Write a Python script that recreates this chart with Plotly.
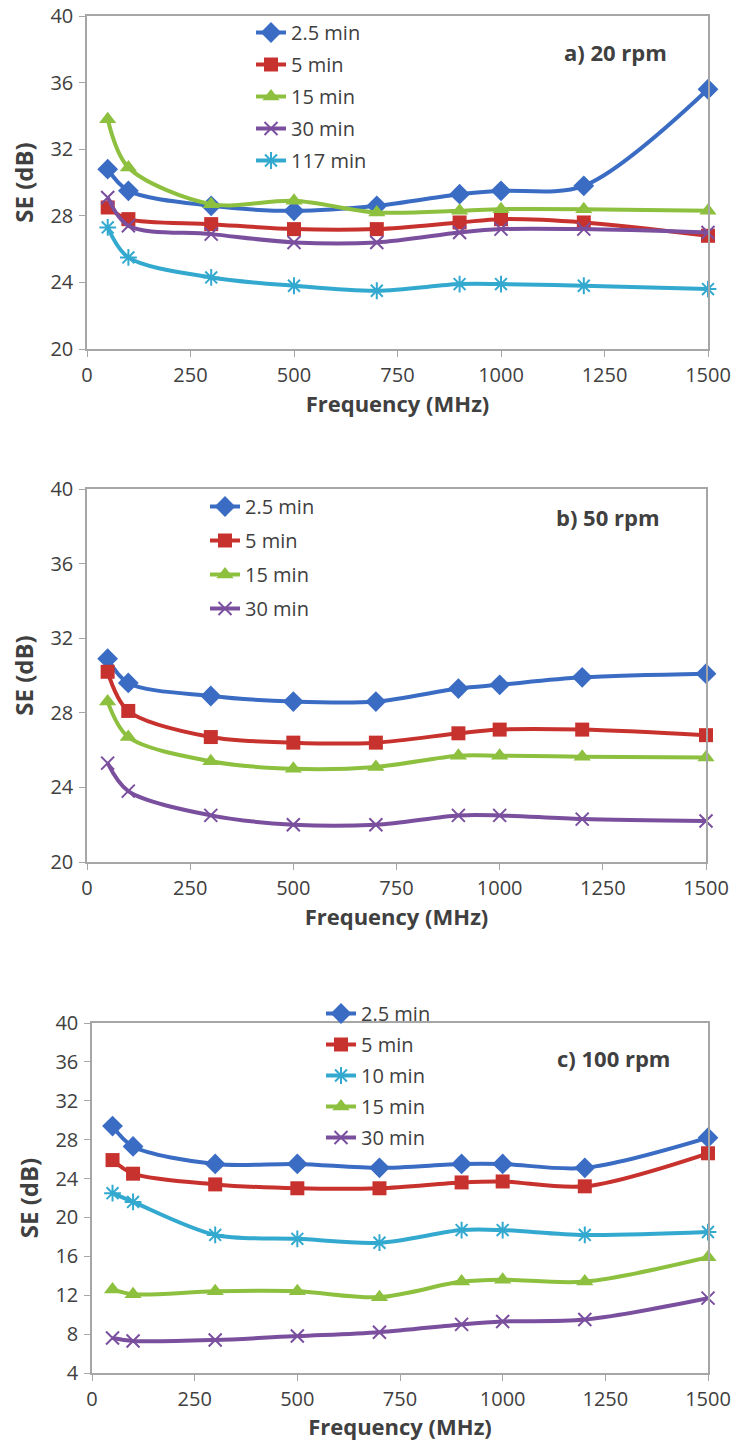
import plotly.graph_objects as go

freq = [50, 100, 300, 500, 700, 900, 1000, 1200, 1500]

# a) 20 rpm
a_labels = ["2.5 min", "5 min", "15 min", "30 min", "117 min"]
a_25 = [30.8, 29.5, 28.6, 28.3, 28.6, 29.3, 29.5, 29.8, 35.6]
a_5 = [28.5, 27.8, 27.5, 27.2, 27.2, 27.6, 27.8, 27.6, 26.8]
a_15 = [33.8, 30.9, 28.7, 28.9, 28.2, 28.3, 28.4, 28.4, 28.3]
a_30 = [29.1, 27.4, 26.9, 26.4, 26.4, 27.0, 27.2, 27.2, 27.0]
a_117 = [27.3, 25.5, 24.3, 23.8, 23.5, 23.9, 23.9, 23.8, 23.6]

# b) 50 rpm
b_labels = ["2.5 min", "5 min", "15 min", "30 min"]
b_25 = [30.9, 29.6, 28.9, 28.6, 28.6, 29.3, 29.5, 29.9, 30.1]
b_5 = [30.2, 28.1, 26.7, 26.4, 26.4, 26.9, 27.1, 27.1, 26.8]
b_15 = [28.6, 26.7, 25.4, 25.0, 25.1, 25.7, 25.7, 25.65, 25.6]
b_30 = [25.3, 23.8, 22.5, 22.0, 22.0, 22.5, 22.5, 22.3, 22.2]

# c) 100 rpm
c_labels = ["2.5 min", "5 min", "10 min", "15 min", "30 min"]
c_25 = [29.4, 27.3, 25.5, 25.5, 25.1, 25.5, 25.5, 25.1, 28.2]
c_5 = [25.9, 24.5, 23.4, 23.0, 23.0, 23.6, 23.7, 23.2, 26.6]
c_10 = [22.5, 21.6, 18.2, 17.8, 17.4, 18.7, 18.7, 18.2, 18.5]
c_15 = [12.6, 12.1, 12.4, 12.4, 11.8, 13.4, 13.6, 13.4, 15.9]
c_30 = [7.6, 7.3, 7.4, 7.8, 8.2, 9.0, 9.3, 9.5, 11.7]

panel_titles = ["a) 20 rpm", "b) 50 rpm", "c) 100 rpm"]
x_ticks = [0, 250, 500, 750, 1000, 1250, 1500]

BLUE = "#3A6CC4"
RED = "#C8322E"
GREEN = "#8DC03F"
PURPLE = "#7A4F9E"
CYAN = "#33A9CF"

styles = {
    "2.5 min": (BLUE, "diamond", 16),
    "5 min": (RED, "square", 14),
    "15 min": (GREEN, "triangle-up", 15),
    "30 min": (PURPLE, "x-thin", 13),
    "117 min": (CYAN, "asterisk", 14),
    "10 min": (CYAN, "asterisk", 14),
}

TXT = "#404040"
FONT = "Open Sans, Noto Sans, sans-serif"

fig = go.Figure()

panels = [
    (a_labels, [a_25, a_5, a_15, a_30, a_117], "x", "y", "legend"),
    (b_labels, [b_25, b_5, b_15, b_30], "x2", "y2", "legend2"),
    (c_labels, [c_25, c_5, c_10, c_15, c_30], "x3", "y3", "legend3"),
]

for pi, (labels, series, xa, ya, lg) in enumerate(panels):
    for lab, vals in zip(labels, series):
        col, sym, sz = styles[lab]
        thin = sym in ("x-thin", "asterisk")
        fig.add_trace(go.Scatter(
            x=freq, y=vals, name=lab, xaxis=xa, yaxis=ya, legend=lg,
            legendgroup=f"{pi}-{lab}",
            mode="lines+markers",
            line=dict(color=col, width=4, shape="spline", smoothing=0.9),
            marker=dict(symbol=sym, size=sz, color=col,
                        line=dict(color=col, width=2 if thin else 0)),
            cliponaxis=False,
        ))

W = 736.0
H = 1441.0

def xd(l, r):
    return [l / W, r / W]

def yd(t, b):
    return [1 - b / H, 1 - t / H]

def px(x):
    return x / W

def py(y):
    return 1 - y / H

axis_common = dict(
    showgrid=False, zeroline=False, showline=True, linecolor="#A6A6A6",
    linewidth=1.5, mirror=True, ticks="outside", ticklen=6, tickcolor="#A6A6A6",
    tickfont=dict(family=FONT, size=20, color=TXT), automargin=False,
)

xtitle_font = dict(family=FONT, size=22, color=TXT)
ytitle_font = dict(family=FONT, size=24, color=TXT)

def xax(dom, anchor):
    return dict(domain=dom, range=[0, 1500], tickvals=x_ticks, anchor=anchor,
                ticklabelstandoff=1,
                title=dict(text="<b>Frequency (MHz)</b>", font=xtitle_font, standoff=3),
                **axis_common)

def yax(dom, rng, anchor):
    return dict(domain=dom, range=rng, dtick=4, anchor=anchor,
                ticklabelstandoff=2,
                title=dict(text="<b>SE (dB)</b>", font=ytitle_font, standoff=10),
                **axis_common)

fig.update_layout(
    width=int(W), height=int(H),
    margin=dict(l=0, r=0, t=0, b=0, autoexpand=False),
    paper_bgcolor="white", plot_bgcolor="white",
    xaxis=xax(xd(87, 708), "y"),
    yaxis=yax(yd(16, 349), [20, 40], "x"),
    xaxis2=xax(xd(87, 706), "y2"),
    yaxis2=yax(yd(489, 862), [20, 40], "x2"),
    xaxis3=xax(xd(92, 708), "y3"),
    yaxis3=yax(yd(1023, 1373), [4, 40], "x3"),
    showlegend=True,
)

leg_font = dict(family=FONT, size=20, color=TXT)
leg_common = dict(bgcolor="rgba(0,0,0,0)", font=leg_font,
                  xanchor="left", yanchor="top", itemwidth=30)
fig.update_layout(
    legend=dict(x=px(251), y=py(13), tracegroupgap=3, **leg_common),
    legend2=dict(x=px(205), y=py(487), tracegroupgap=5, **leg_common),
    legend3=dict(x=px(321), y=py(994), tracegroupgap=2, **leg_common),
)

ann_pos = [(615, 52), (607, 517), (613, 1058)]
for txt, (ax_, ay_) in zip(panel_titles, ann_pos):
    fig.add_annotation(
        text=f"<b>{txt}</b>", x=px(ax_), y=py(ay_), xref="paper", yref="paper",
        showarrow=False, font=dict(family=FONT, size=22, color=TXT),
        xanchor="center", yanchor="middle",
    )

fig.write_html("out.html", config={"displayModeBar": False},
               post_script="document.body.style.margin='0';")
